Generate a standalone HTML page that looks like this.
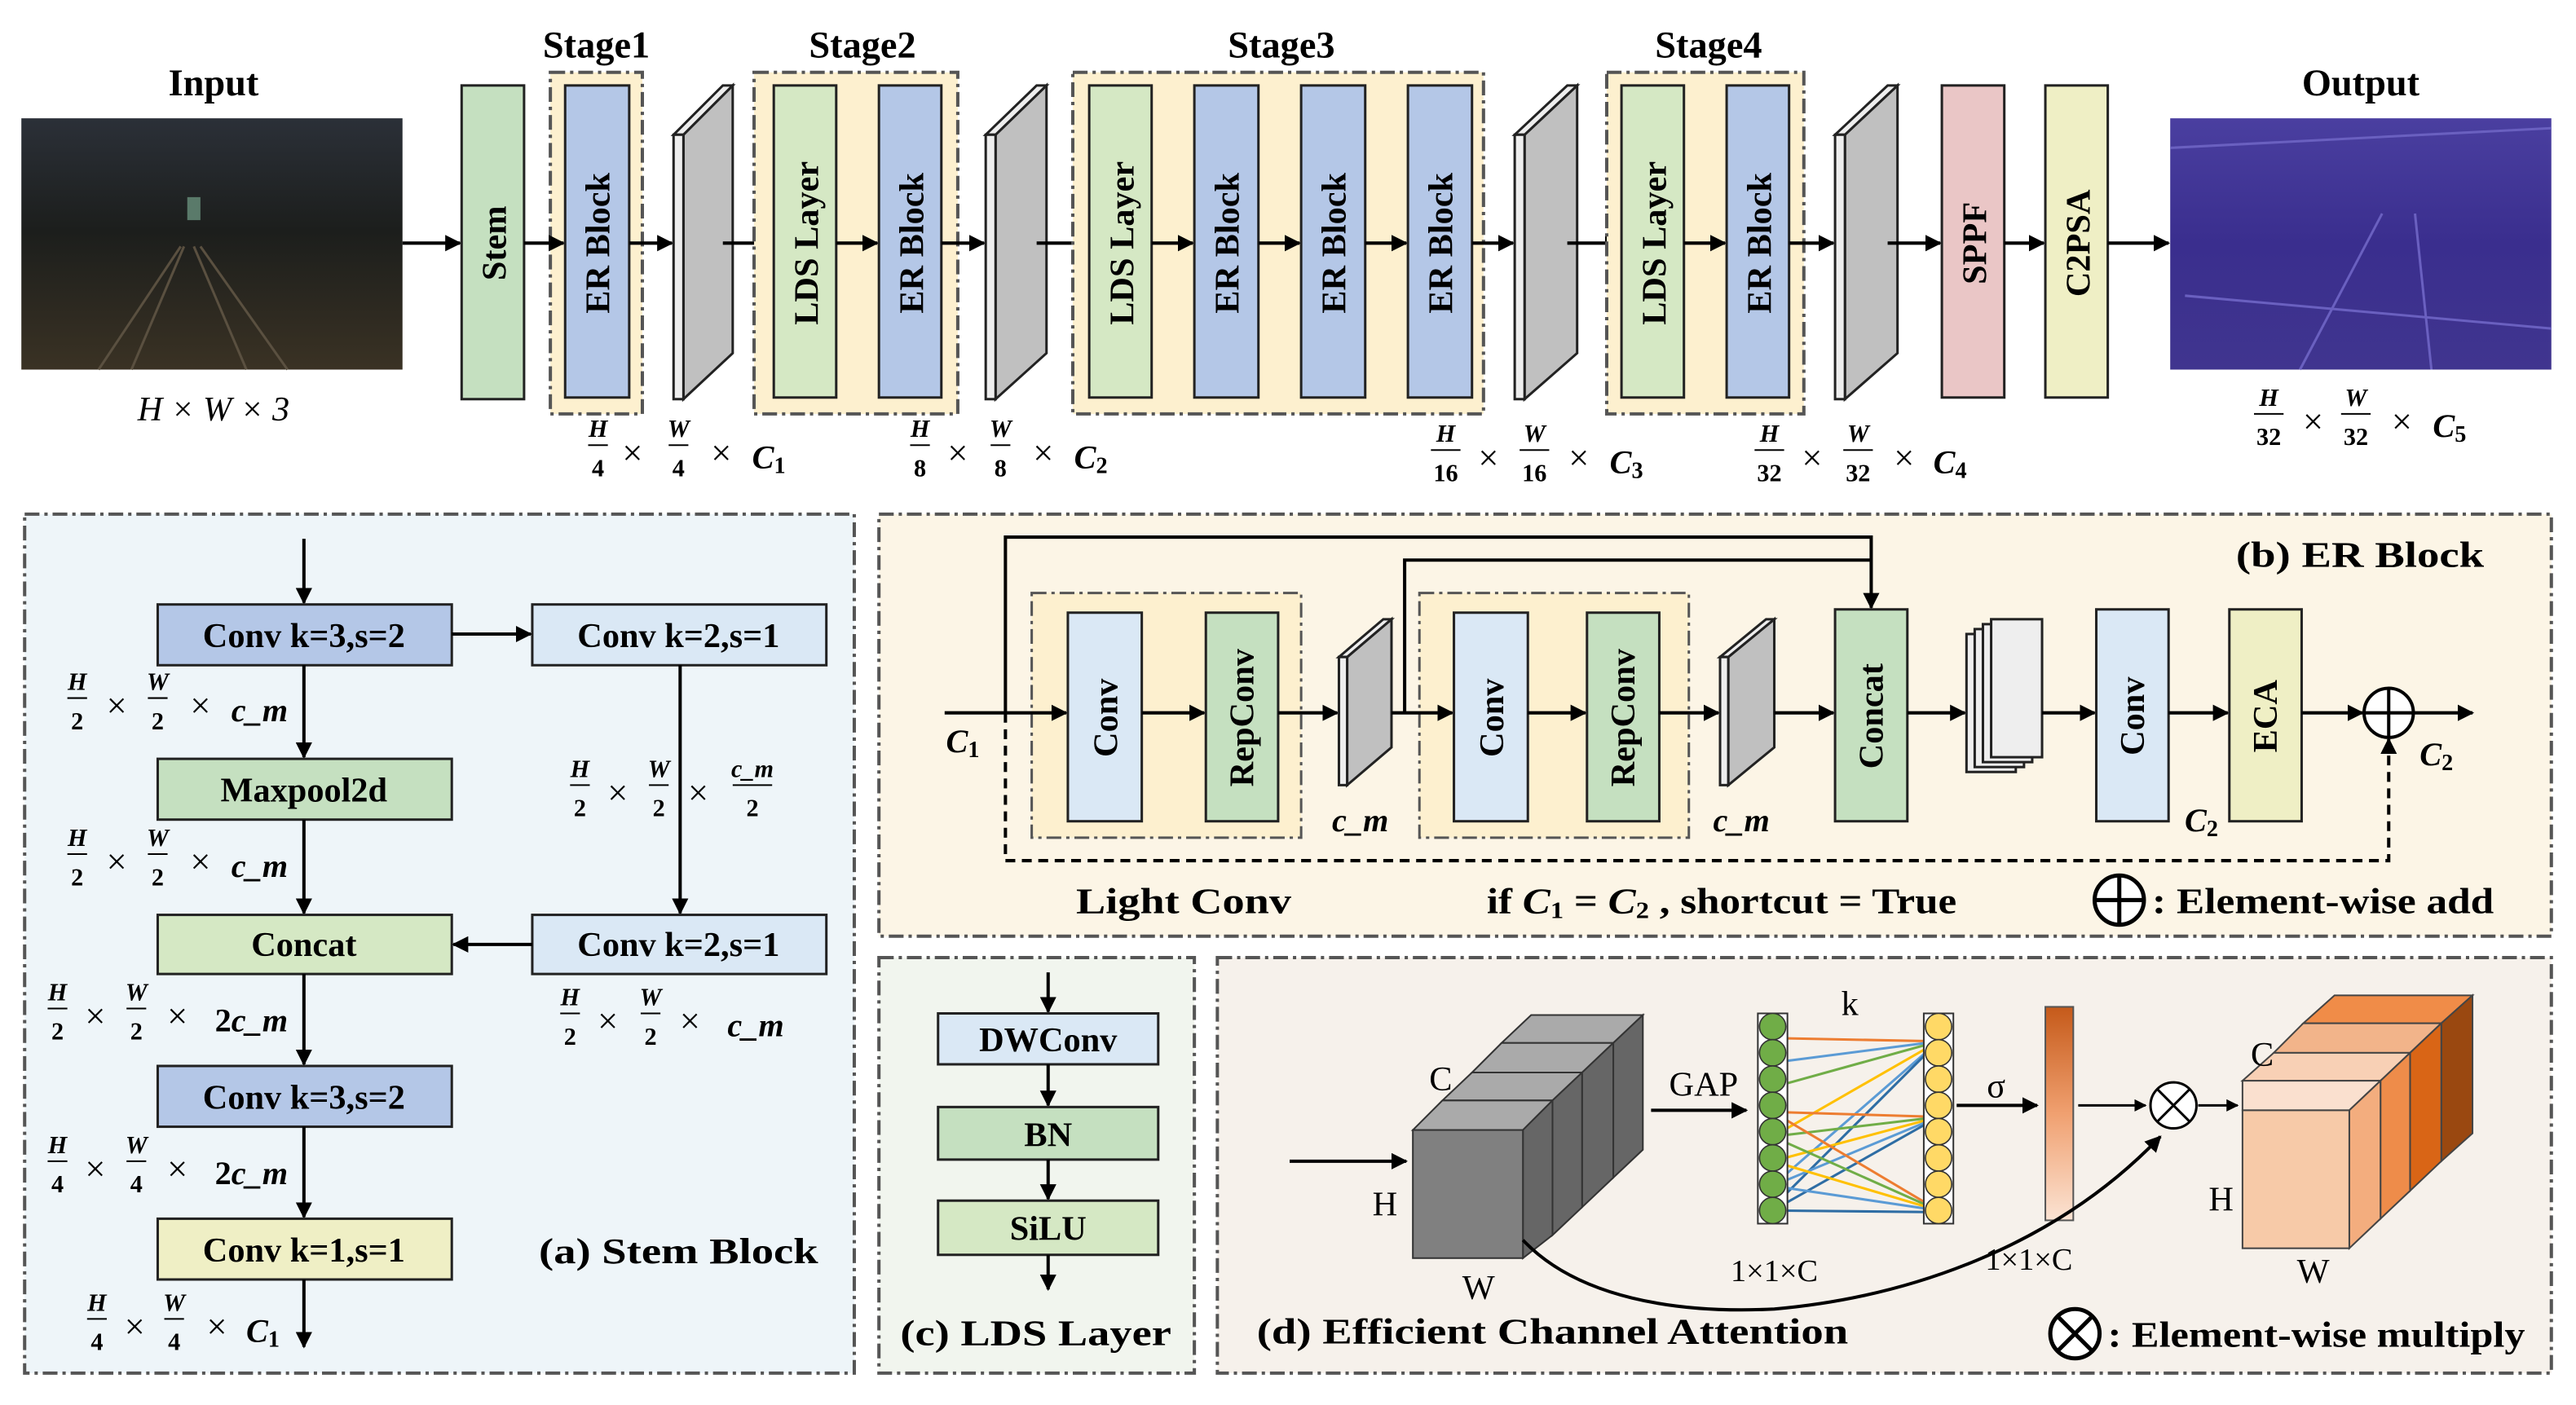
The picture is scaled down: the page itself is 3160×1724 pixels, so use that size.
<!DOCTYPE html>
<html><head><meta charset="utf-8"><style>
html,body{margin:0;padding:0;background:#fff}
svg{display:block}
text{font-family:"Liberation Serif",serif;fill:#000}
.b{font-weight:bold}
.t{font-size:23px;font-weight:bold;text-anchor:middle}
.v{font-size:21px;font-weight:bold;text-anchor:middle}
.fi{font-size:15px;font-style:italic;font-weight:bold;text-anchor:middle}
.fb{font-size:15px;font-weight:bold;text-anchor:middle}
.x{font-size:22px;text-anchor:middle}
.cm{font-size:20px;font-weight:bold;font-style:italic;text-anchor:middle}
.lab{font-size:21px;font-weight:bold;text-anchor:middle}
.ls{font-size:22px;font-weight:bold}
.s{stroke:#222;stroke-width:1.5}
.ln{stroke:#000;stroke-width:2;fill:none}
.pn{stroke:#555;stroke-width:2;stroke-dasharray:9,3,2,3}
.rom{font-size:21px;text-anchor:middle}
</style></head><body>
<svg width="3160" height="1724" viewBox="0 0 1568 855.4" xmlns="http://www.w3.org/2000/svg">
<defs>
<marker id="a" viewBox="0 0 10 10" refX="9" refY="5" markerWidth="5" markerHeight="5" orient="auto-start-reverse" markerUnits="strokeWidth"><path d="M0,0 L10,5 L0,10 z" fill="#000"/></marker>
<linearGradient id="img" x1="0" y1="0" x2="0" y2="1"><stop offset="0" stop-color="#2b3038"/><stop offset="0.45" stop-color="#1c1e1c"/><stop offset="1" stop-color="#3a3224"/></linearGradient>
<linearGradient id="out" x1="0" y1="0" x2="0" y2="1"><stop offset="0" stop-color="#4a3fa0"/><stop offset="0.5" stop-color="#3a2e8e"/><stop offset="1" stop-color="#40358f"/></linearGradient>
<linearGradient id="sig" x1="0" y1="0" x2="0" y2="1"><stop offset="0" stop-color="#c55a1a"/><stop offset="0.5" stop-color="#f0a070"/><stop offset="1" stop-color="#fbe3d3"/></linearGradient>
</defs>

<!-- ===== TOP ROW ===== -->
<text x="130" y="58" class="t">Input</text>
<rect x="13" y="72" width="232" height="153" fill="url(#img)"/>
<path d="M60,225 L110,150 M80,225 L112,150 M150,225 L118,150 M175,225 L122,150" stroke="#5a5040" stroke-width="1.5"/>
<rect x="114" y="120" width="8" height="14" fill="#5a7a6a"/>
<text x="130" y="256" style="font-size:21px;font-style:italic;text-anchor:middle">H × W × 3</text>

<line x1="245" y1="148" x2="280" y2="148" class="ln" marker-end="url(#a)"/>
<rect x="281" y="52" width="38" height="191" fill="#c5e0c0" class="s"/>
<text transform="translate(308,148) rotate(-90)" class="v">Stem</text>

<text x="363" y="35" class="t">Stage1</text>
<rect x="335" y="44" width="56" height="208" fill="#fdf0cf" class="pn"/>
<line x1="319" y1="148" x2="343" y2="148" class="ln" marker-end="url(#a)"/>
<rect x="344" y="52" width="39" height="190" fill="#b4c7e7" class="s"/>
<text transform="translate(371,148) rotate(-90)" class="v">ER Block</text>
<line x1="383" y1="148" x2="409" y2="148" class="ln" marker-end="url(#a)"/>
<g><polygon points="416,82 446,52 446,215 416,243" fill="#c0c0c0" class="s"/><polygon points="410,82 440,52 446,52 416,82" fill="#eee" class="s"/><rect x="410" y="82" width="6" height="161" fill="#eee" class="s"/></g>
<line x1="440" y1="148" x2="470" y2="148" class="ln" marker-end="url(#a)"/>

<text x="525" y="35" class="t">Stage2</text>
<rect x="459" y="44" width="124" height="208" fill="#fdf0cf" class="pn"/>
<rect x="471" y="52" width="38" height="190" fill="#d5e8c4" class="s"/>
<text transform="translate(498,148) rotate(-90)" class="v">LDS Layer</text>
<line x1="509" y1="148" x2="534" y2="148" class="ln" marker-end="url(#a)"/>
<rect x="535" y="52" width="38" height="190" fill="#b4c7e7" class="s"/>
<text transform="translate(562,148) rotate(-90)" class="v">ER Block</text>
<line x1="573" y1="148" x2="599" y2="148" class="ln" marker-end="url(#a)"/>
<g><polygon points="606,82 637,52 637,215 606,243" fill="#c0c0c0" class="s"/><polygon points="600,82 631,52 637,52 606,82" fill="#eee" class="s"/><rect x="600" y="82" width="6" height="161" fill="#eee" class="s"/></g>
<line x1="631" y1="148" x2="662" y2="148" class="ln" marker-end="url(#a)"/>

<text x="780" y="35" class="t">Stage3</text>
<rect x="653" y="44" width="250" height="208" fill="#fdf0cf" class="pn"/>
<rect x="663" y="52" width="38" height="190" fill="#d5e8c4" class="s"/>
<text transform="translate(690,148) rotate(-90)" class="v">LDS Layer</text>
<line x1="701" y1="148" x2="726" y2="148" class="ln" marker-end="url(#a)"/>
<rect x="727" y="52" width="39" height="190" fill="#b4c7e7" class="s"/>
<text transform="translate(754,148) rotate(-90)" class="v">ER Block</text>
<line x1="766" y1="148" x2="791" y2="148" class="ln" marker-end="url(#a)"/>
<rect x="792" y="52" width="39" height="190" fill="#b4c7e7" class="s"/>
<text transform="translate(819,148) rotate(-90)" class="v">ER Block</text>
<line x1="831" y1="148" x2="856" y2="148" class="ln" marker-end="url(#a)"/>
<rect x="857" y="52" width="39" height="190" fill="#b4c7e7" class="s"/>
<text transform="translate(884,148) rotate(-90)" class="v">ER Block</text>
<line x1="896" y1="148" x2="921" y2="148" class="ln" marker-end="url(#a)"/>
<g><polygon points="928,82 960,52 960,215 928,243" fill="#c0c0c0" class="s"/><polygon points="922,82 954,52 960,52 928,82" fill="#eee" class="s"/><rect x="922" y="82" width="6" height="161" fill="#eee" class="s"/></g>
<line x1="954" y1="148" x2="986" y2="148" class="ln" marker-end="url(#a)"/>

<text x="1040" y="35" class="t">Stage4</text>
<rect x="978" y="44" width="120" height="208" fill="#fdf0cf" class="pn"/>
<rect x="987" y="52" width="38" height="190" fill="#d5e8c4" class="s"/>
<text transform="translate(1014,148) rotate(-90)" class="v">LDS Layer</text>
<line x1="1025" y1="148" x2="1050" y2="148" class="ln" marker-end="url(#a)"/>
<rect x="1051" y="52" width="38" height="190" fill="#b4c7e7" class="s"/>
<text transform="translate(1078,148) rotate(-90)" class="v">ER Block</text>
<line x1="1089" y1="148" x2="1116" y2="148" class="ln" marker-end="url(#a)"/>
<g><polygon points="1123,82 1155,52 1155,215 1123,243" fill="#c0c0c0" class="s"/><polygon points="1117,82 1149,52 1155,52 1123,82" fill="#eee" class="s"/><rect x="1117" y="82" width="6" height="161" fill="#eee" class="s"/></g>
<line x1="1149" y1="148" x2="1181" y2="148" class="ln" marker-end="url(#a)"/>
<rect x="1182" y="52" width="38" height="190" fill="#eac6c6" class="s"/>
<text transform="translate(1209,148) rotate(-90)" class="v">SPPF</text>
<line x1="1220" y1="148" x2="1244" y2="148" class="ln" marker-end="url(#a)"/>
<rect x="1245" y="52" width="38" height="190" fill="#efefc5" class="s"/>
<text transform="translate(1272,148) rotate(-90)" class="v">C2PSA</text>
<line x1="1283" y1="148" x2="1320" y2="148" class="ln" marker-end="url(#a)"/>
<text x="1437" y="58" class="t">Output</text>
<rect x="1321" y="72" width="232" height="153" fill="url(#out)"/>
<path d="M1321,90 L1553,78 M1400,225 L1450,130 M1480,225 L1470,130 M1330,180 L1553,200" stroke="#6a60c0" stroke-width="1.5"/>

<!-- top dimension labels -->
<g>
<text x="364" y="266" class="fi">H</text><line x1="358" y1="271" x2="370" y2="271" stroke="#000"/><text x="364" y="290" class="fb">4</text>
<text x="385" y="283" class="x">×</text>
<text x="413" y="266" class="fi">W</text><line x1="407" y1="271" x2="419" y2="271" stroke="#000"/><text x="413" y="290" class="fb">4</text>
<text x="439" y="283" class="x">×</text>
<text x="468" y="285" class="cm">C<tspan dy="3" style="font-size:14px;font-style:normal">1</tspan></text>

<text x="560" y="266" class="fi">H</text><line x1="554" y1="271" x2="566" y2="271" stroke="#000"/><text x="560" y="290" class="fb">8</text>
<text x="583" y="283" class="x">×</text>
<text x="609" y="266" class="fi">W</text><line x1="603" y1="271" x2="615" y2="271" stroke="#000"/><text x="609" y="290" class="fb">8</text>
<text x="635" y="283" class="x">×</text>
<text x="664" y="285" class="cm">C<tspan dy="3" style="font-size:14px;font-style:normal">2</tspan></text>

<text x="880" y="269" class="fi">H</text><line x1="871" y1="274" x2="889" y2="274" stroke="#000"/><text x="880" y="293" class="fb">16</text>
<text x="906" y="286" class="x">×</text>
<text x="934" y="269" class="fi">W</text><line x1="925" y1="274" x2="943" y2="274" stroke="#000"/><text x="934" y="293" class="fb">16</text>
<text x="961" y="286" class="x">×</text>
<text x="990" y="288" class="cm">C<tspan dy="3" style="font-size:14px;font-style:normal">3</tspan></text>

<text x="1077" y="269" class="fi">H</text><line x1="1068" y1="274" x2="1086" y2="274" stroke="#000"/><text x="1077" y="293" class="fb">32</text>
<text x="1103" y="286" class="x">×</text>
<text x="1131" y="269" class="fi">W</text><line x1="1122" y1="274" x2="1140" y2="274" stroke="#000"/><text x="1131" y="293" class="fb">32</text>
<text x="1159" y="286" class="x">×</text>
<text x="1187" y="288" class="cm">C<tspan dy="3" style="font-size:14px;font-style:normal">4</tspan></text>

<text x="1381" y="247" class="fi">H</text><line x1="1372" y1="252" x2="1390" y2="252" stroke="#000"/><text x="1381" y="271" class="fb">32</text>
<text x="1408" y="264" class="x">×</text>
<text x="1434" y="247" class="fi">W</text><line x1="1425" y1="252" x2="1443" y2="252" stroke="#000"/><text x="1434" y="271" class="fb">32</text>
<text x="1462" y="264" class="x">×</text>
<text x="1491" y="266" class="cm">C<tspan dy="3" style="font-size:14px;font-style:normal">5</tspan></text>
</g>

<!-- ===== PANEL (a) ===== -->
<rect x="15" y="313" width="505" height="523" fill="#eef5f9" class="pn"/>
<line x1="185" y1="328" x2="185" y2="367" class="ln" marker-end="url(#a)"/>
<rect x="96" y="368" width="179" height="37" fill="#b4c7e7" class="s"/><text x="185" y="394" class="lab">Conv k=3,s=2</text>
<rect x="324" y="368" width="179" height="37" fill="#dae8f5" class="s"/><text x="413" y="394" class="lab">Conv k=2,s=1</text>
<line x1="275" y1="386" x2="323" y2="386" class="ln" marker-end="url(#a)"/>
<line x1="185" y1="405" x2="185" y2="461" class="ln" marker-end="url(#a)"/>
<rect x="96" y="462" width="179" height="37" fill="#c5e0c0" class="s"/><text x="185" y="488" class="lab">Maxpool2d</text>
<line x1="185" y1="499" x2="185" y2="556" class="ln" marker-end="url(#a)"/>
<line x1="414" y1="405" x2="414" y2="556" class="ln" marker-end="url(#a)"/>
<rect x="96" y="557" width="179" height="36" fill="#d5e8c4" class="s"/><text x="185" y="582" class="lab">Concat</text>
<rect x="324" y="557" width="179" height="36" fill="#dae8f5" class="s"/><text x="413" y="582" class="lab">Conv k=2,s=1</text>
<line x1="324" y1="575" x2="276" y2="575" class="ln" marker-end="url(#a)"/>
<line x1="185" y1="593" x2="185" y2="648" class="ln" marker-end="url(#a)"/>
<rect x="96" y="649" width="179" height="37" fill="#b4c7e7" class="s"/><text x="185" y="675" class="lab">Conv k=3,s=2</text>
<line x1="185" y1="686" x2="185" y2="741" class="ln" marker-end="url(#a)"/>
<rect x="96" y="742" width="179" height="37" fill="#efefc5" class="s"/><text x="185" y="768" class="lab">Conv k=1,s=1</text>
<line x1="185" y1="779" x2="185" y2="820" class="ln" marker-end="url(#a)"/>
<text x="328" y="769" class="ls" textLength="170" lengthAdjust="spacingAndGlyphs">(a) Stem Block</text>

<g>
<text x="47" y="420" class="fi">H</text><line x1="41" y1="425" x2="53" y2="425" stroke="#000"/><text x="47" y="444" class="fb">2</text>
<text x="71" y="437" class="x">×</text>
<text x="96" y="420" class="fi">W</text><line x1="90" y1="425" x2="102" y2="425" stroke="#000"/><text x="96" y="444" class="fb">2</text>
<text x="122" y="437" class="x">×</text><text x="158" y="439" class="cm">c_m</text>

<text x="353" y="473" class="fi">H</text><line x1="347" y1="478" x2="359" y2="478" stroke="#000"/><text x="353" y="497" class="fb">2</text>
<text x="376" y="490" class="x">×</text>
<text x="401" y="473" class="fi">W</text><line x1="395" y1="478" x2="407" y2="478" stroke="#000"/><text x="401" y="497" class="fb">2</text>
<text x="425" y="490" class="x">×</text>
<text x="458" y="473" class="fi">c_m</text><line x1="446" y1="478" x2="470" y2="478" stroke="#000"/><text x="458" y="497" class="fb">2</text>

<text x="47" y="515" class="fi">H</text><line x1="41" y1="520" x2="53" y2="520" stroke="#000"/><text x="47" y="539" class="fb">2</text>
<text x="71" y="532" class="x">×</text>
<text x="96" y="515" class="fi">W</text><line x1="90" y1="520" x2="102" y2="520" stroke="#000"/><text x="96" y="539" class="fb">2</text>
<text x="122" y="532" class="x">×</text><text x="158" y="534" class="cm">c_m</text>

<text x="35" y="609" class="fi">H</text><line x1="29" y1="614" x2="41" y2="614" stroke="#000"/><text x="35" y="633" class="fb">2</text>
<text x="58" y="626" class="x">×</text>
<text x="83" y="609" class="fi">W</text><line x1="77" y1="614" x2="89" y2="614" stroke="#000"/><text x="83" y="633" class="fb">2</text>
<text x="108" y="626" class="x">×</text><text x="153" y="628" class="cm"><tspan style="font-style:normal">2</tspan>c_m</text>

<text x="347" y="612" class="fi">H</text><line x1="341" y1="617" x2="353" y2="617" stroke="#000"/><text x="347" y="636" class="fb">2</text>
<text x="370" y="629" class="x">×</text>
<text x="396" y="612" class="fi">W</text><line x1="390" y1="617" x2="402" y2="617" stroke="#000"/><text x="396" y="636" class="fb">2</text>
<text x="420" y="629" class="x">×</text><text x="460" y="631" class="cm">c_m</text>

<text x="35" y="702" class="fi">H</text><line x1="29" y1="707" x2="41" y2="707" stroke="#000"/><text x="35" y="726" class="fb">4</text>
<text x="58" y="719" class="x">×</text>
<text x="83" y="702" class="fi">W</text><line x1="77" y1="707" x2="89" y2="707" stroke="#000"/><text x="83" y="726" class="fb">4</text>
<text x="108" y="719" class="x">×</text><text x="153" y="721" class="cm"><tspan style="font-style:normal">2</tspan>c_m</text>

<text x="59" y="798" class="fi">H</text><line x1="53" y1="803" x2="65" y2="803" stroke="#000"/><text x="59" y="822" class="fb">4</text>
<text x="82" y="815" class="x">×</text>
<text x="106" y="798" class="fi">W</text><line x1="100" y1="803" x2="112" y2="803" stroke="#000"/><text x="106" y="822" class="fb">4</text>
<text x="132" y="815" class="x">×</text>
<text x="160" y="817" class="cm">C<tspan dy="3" style="font-size:14px;font-style:normal">1</tspan></text>
</g>

<!-- ===== PANEL (b) ===== -->
<rect x="535" y="313" width="1018" height="257" fill="#fcf5e6" class="pn"/>
<text x="1361" y="345" class="ls" textLength="151" lengthAdjust="spacingAndGlyphs">(b) ER Block</text>
<rect x="628" y="361" width="164" height="149" fill="#fdf0cf" class="pn" style="stroke-width:1.5"/>
<rect x="864" y="361" width="164" height="149" fill="#fdf0cf" class="pn" style="stroke-width:1.5"/>
<text x="586" y="458" class="cm">C<tspan dy="3" style="font-size:14px;font-style:normal">1</tspan></text>
<line x1="575" y1="434" x2="649" y2="434" class="ln" marker-end="url(#a)"/>
<path d="M612,434 V327 H1139 V370" class="ln" marker-end="url(#a)"/>
<path d="M855,434 V341 H1139" class="ln"/>
<path d="M612,434 V524 H1454 V450" class="ln" stroke-dasharray="6,4" marker-end="url(#a)"/>
<rect x="650" y="373" width="45" height="127" fill="#dae8f5" class="s"/><text transform="translate(680,437) rotate(-90)" class="v">Conv</text>
<line x1="695" y1="434" x2="733" y2="434" class="ln" marker-end="url(#a)"/>
<rect x="734" y="373" width="44" height="127" fill="#c5e0c0" class="s"/><text transform="translate(763,437) rotate(-90)" class="v">RepConv</text>
<line x1="778" y1="434" x2="814" y2="434" class="ln" marker-end="url(#a)"/>
<g><polygon points="820,400 847,377 847,455 820,478" fill="#c0c0c0" class="s"/><polygon points="815,400 842,377 847,377 820,400" fill="#eee" class="s"/><rect x="815" y="400" width="5" height="78" fill="#eee" class="s"/></g>
<line x1="847" y1="434" x2="884" y2="434" class="ln" marker-end="url(#a)"/>
<text x="828" y="506" class="cm">c_m</text>
<rect x="885" y="373" width="45" height="127" fill="#dae8f5" class="s"/><text transform="translate(915,437) rotate(-90)" class="v">Conv</text>
<line x1="930" y1="434" x2="965" y2="434" class="ln" marker-end="url(#a)"/>
<rect x="966" y="373" width="44" height="127" fill="#c5e0c0" class="s"/><text transform="translate(995,437) rotate(-90)" class="v">RepConv</text>
<line x1="1010" y1="434" x2="1046" y2="434" class="ln" marker-end="url(#a)"/>
<g><polygon points="1052,400 1080,377 1080,455 1052,478" fill="#c0c0c0" class="s"/><polygon points="1047,400 1075,377 1080,377 1052,400" fill="#eee" class="s"/><rect x="1047" y="400" width="5" height="78" fill="#eee" class="s"/></g>
<text x="1060" y="506" class="cm">c_m</text>
<line x1="1080" y1="434" x2="1116" y2="434" class="ln" marker-end="url(#a)"/>
<rect x="1117" y="371" width="44" height="129" fill="#c5e0c0" class="s"/><text transform="translate(1146,436) rotate(-90)" class="v">Concat</text>
<line x1="1161" y1="434" x2="1196" y2="434" class="ln" marker-end="url(#a)"/>
<g fill="#eee" class="s">
<rect x="1197" y="386" width="30" height="84"/><rect x="1202" y="383" width="30" height="84"/><rect x="1207" y="380" width="30" height="84"/><rect x="1212" y="377" width="31" height="84"/>
</g>
<line x1="1243" y1="434" x2="1275" y2="434" class="ln" marker-end="url(#a)"/>
<rect x="1276" y="371" width="44" height="129" fill="#dae8f5" class="s"/><text transform="translate(1305,436) rotate(-90)" class="v">Conv</text>
<text x="1340" y="506" class="cm">C<tspan dy="3" style="font-size:14px;font-style:normal">2</tspan></text>
<line x1="1320" y1="434" x2="1356" y2="434" class="ln" marker-end="url(#a)"/>
<rect x="1357" y="371" width="44" height="129" fill="#efefc5" class="s"/><text transform="translate(1386,436) rotate(-90)" class="v">ECA</text>
<line x1="1401" y1="434" x2="1438" y2="434" class="ln" marker-end="url(#a)"/>
<circle cx="1454" cy="434" r="15" fill="#fff" stroke="#000" stroke-width="2"/>
<path d="M1439,434 H1469 M1454,419 V449" stroke="#000" stroke-width="2"/>
<line x1="1469" y1="434" x2="1505" y2="434" class="ln" marker-end="url(#a)"/>
<text x="1483" y="466" class="cm">C<tspan dy="3" style="font-size:14px;font-style:normal">2</tspan></text>
<text x="655" y="556" class="ls" textLength="131" lengthAdjust="spacingAndGlyphs">Light Conv</text>
<text x="905" y="556" class="ls" textLength="286" lengthAdjust="spacingAndGlyphs">if <tspan font-style="italic">C</tspan><tspan dy="3" font-size="14">1</tspan><tspan dy="-3"> = </tspan><tspan font-style="italic">C</tspan><tspan dy="3" font-size="14">2</tspan><tspan dy="-3"> , shortcut = True</tspan></text>
<circle cx="1290" cy="548" r="15" fill="#fff" stroke="#000" stroke-width="2.5"/>
<path d="M1275,548 H1305 M1290,533 V563" stroke="#000" stroke-width="2.5"/>
<text x="1310" y="556" class="ls" textLength="208" lengthAdjust="spacingAndGlyphs">: Element-wise add</text>

<!-- ===== PANEL (c) ===== -->
<rect x="535" y="583" width="192" height="253" fill="#f1f5ee" class="pn"/>
<line x1="638" y1="592" x2="638" y2="616" class="ln" marker-end="url(#a)"/>
<rect x="571" y="617" width="134" height="31" fill="#dae8f5" class="s"/><text x="638" y="640" class="lab">DWConv</text>
<line x1="638" y1="648" x2="638" y2="673" class="ln" marker-end="url(#a)"/>
<rect x="571" y="674" width="134" height="32" fill="#c5e0c0" class="s"/><text x="638" y="698" class="lab">BN</text>
<line x1="638" y1="706" x2="638" y2="730" class="ln" marker-end="url(#a)"/>
<rect x="571" y="731" width="134" height="33" fill="#d5e8c4" class="s"/><text x="638" y="755" class="lab">SiLU</text>
<line x1="638" y1="764" x2="638" y2="785" class="ln" marker-end="url(#a)"/>
<text x="548" y="819" class="ls" textLength="165" lengthAdjust="spacingAndGlyphs">(c) LDS Layer</text>

<!-- ===== PANEL (d) ===== -->
<rect x="741" y="583" width="812" height="253" fill="#f6f1eb" class="pn"/>
<line x1="785" y1="707" x2="856" y2="707" class="ln" marker-end="url(#a)"/>
<g stroke="#333" stroke-width="1">
<polygon points="932,618 1000,618 982,635 914,635" fill="#aaa"/>
<polygon points="914,635 982,635 963,653 896,653" fill="#aaa"/>
<polygon points="896,653 963,653 945,670 878,670" fill="#aaa"/>
<polygon points="878,670 945,670 927,688 860,688" fill="#aaa"/>
<polygon points="1000,618 1000,700 982,717 982,635" fill="#666"/>
<polygon points="982,635 982,717 963,735 963,653" fill="#666"/>
<polygon points="963,653 963,735 945,752 945,670" fill="#666"/>
<polygon points="945,670 945,752 927,766 927,688" fill="#666"/>
<rect x="860" y="688" width="67" height="78" fill="#808080"/>
</g>
<text x="877" y="664" class="rom">C</text>
<text x="843" y="740" class="rom">H</text>
<text x="900" y="791" class="rom">W</text>
<text x="1037" y="667" class="rom">GAP</text>
<line x1="1005" y1="676" x2="1063" y2="676" class="ln" marker-end="url(#a)"/>
<text x="1126" y="618" class="rom">k</text>
<g stroke-width="1.5" fill="none">
<path d="M1079,632 L1180,634" stroke="#ed7d31"/>
<path d="M1079,662 L1180,634" stroke="#70ad47"/>
<path d="M1079,692 L1180,634" stroke="#ffc000"/>
<path d="M1079,722 L1180,634" stroke="#5b9bd5"/>
<path d="M1079,735 L1180,634" stroke="#2e6da4"/>
<path d="M1079,677 L1180,680" stroke="#ed7d31"/>
<path d="M1079,692 L1180,680" stroke="#70ad47"/>
<path d="M1079,707 L1180,680" stroke="#ffc000"/>
<path d="M1079,722 L1180,680" stroke="#5b9bd5"/>
<path d="M1079,737 L1180,680" stroke="#2e6da4"/>
<path d="M1079,677 L1180,737" stroke="#ed7d31"/>
<path d="M1079,692 L1180,737" stroke="#70ad47"/>
<path d="M1079,707 L1180,737" stroke="#ffc000"/>
<path d="M1079,722 L1180,737" stroke="#5b9bd5"/>
<path d="M1079,737 L1180,738" stroke="#2e6da4"/>
<path d="M1079,647 L1180,634" stroke="#5b9bd5"/>
</g>
<rect x="1070" y="617" width="18" height="128" fill="#fff" stroke="#333"/>
<g fill="#70ad47" stroke="#333" stroke-width="0.8">
<ellipse cx="1079" cy="625" rx="8" ry="8"/><ellipse cx="1079" cy="641" rx="8" ry="8"/><ellipse cx="1079" cy="657" rx="8" ry="8"/><ellipse cx="1079" cy="673" rx="8" ry="8"/><ellipse cx="1079" cy="689" rx="8" ry="8"/><ellipse cx="1079" cy="705" rx="8" ry="8"/><ellipse cx="1079" cy="721" rx="8" ry="8"/><ellipse cx="1079" cy="737" rx="8" ry="8"/>
</g>
<rect x="1171" y="617" width="18" height="128" fill="#fff" stroke="#333"/>
<g fill="#ffd966" stroke="#333" stroke-width="0.8">
<ellipse cx="1180" cy="625" rx="8" ry="8"/><ellipse cx="1180" cy="641" rx="8" ry="8"/><ellipse cx="1180" cy="657" rx="8" ry="8"/><ellipse cx="1180" cy="673" rx="8" ry="8"/><ellipse cx="1180" cy="689" rx="8" ry="8"/><ellipse cx="1180" cy="705" rx="8" ry="8"/><ellipse cx="1180" cy="721" rx="8" ry="8"/><ellipse cx="1180" cy="737" rx="8" ry="8"/>
</g>
<text x="1215" y="668" class="rom">σ</text>
<line x1="1191" y1="673" x2="1240" y2="673" class="ln" marker-end="url(#a)"/>
<rect x="1245" y="613" width="17" height="130" fill="url(#sig)" stroke="#555" stroke-width="1"/>
<line x1="1265" y1="673" x2="1306" y2="673" class="ln" style="stroke-width:1.5" marker-end="url(#a)"/>
<ellipse cx="1323" cy="673" rx="14" ry="14" fill="#fff" stroke="#000" stroke-width="1.5"/>
<path d="M1313,663 L1333,683 M1333,663 L1313,683" stroke="#000" stroke-width="1.5"/>
<line x1="1338" y1="673" x2="1362" y2="673" class="ln" style="stroke-width:1.5" marker-end="url(#a)"/>
<path d="M927,755 C960,790 1020,800 1080,797 C1160,790 1250,760 1315,692" class="ln" marker-end="url(#a)"/>
<text x="1080" y="780" class="rom" style="font-size:19px">1×1×C</text>
<text x="1235" y="773" class="rom" style="font-size:19px">1×1×C</text>
<g stroke="#444" stroke-width="1">
<polygon points="1421,606 1505,606 1486,623 1402,623" fill="#f08c48"/>
<polygon points="1402,623 1486,623 1467,641 1384,641" fill="#f2b48a"/>
<polygon points="1384,641 1467,641 1449,658 1365,658" fill="#f8d0b5"/>
<polygon points="1365,658 1449,658 1430,676 1365,676" fill="#fae0cf"/>
<polygon points="1505,606 1505,690 1486,707 1486,623" fill="#9a4810"/>
<polygon points="1486,623 1486,707 1467,725 1467,641" fill="#d96516"/>
<polygon points="1467,641 1467,725 1449,742 1449,658" fill="#ee8c4a"/>
<polygon points="1449,658 1449,742 1430,760 1430,676" fill="#f3ad7e"/>
<rect x="1365" y="676" width="65" height="84" fill="#f7caa8"/>
</g>
<text x="1377" y="649" class="rom">C</text>
<text x="1352" y="737" class="rom">H</text>
<text x="1408" y="781" class="rom">W</text>
<text x="765" y="818" class="ls" textLength="360" lengthAdjust="spacingAndGlyphs">(d) Efficient Channel Attention</text>
<ellipse cx="1263" cy="812" rx="15" ry="15" fill="#fff" stroke="#000" stroke-width="2.5"/>
<path d="M1252,801 L1274,823 M1274,801 L1252,823" stroke="#000" stroke-width="2.5"/>
<text x="1283" y="820" class="ls" textLength="254" lengthAdjust="spacingAndGlyphs">: Element-wise multiply</text>
</svg>
</body></html>
